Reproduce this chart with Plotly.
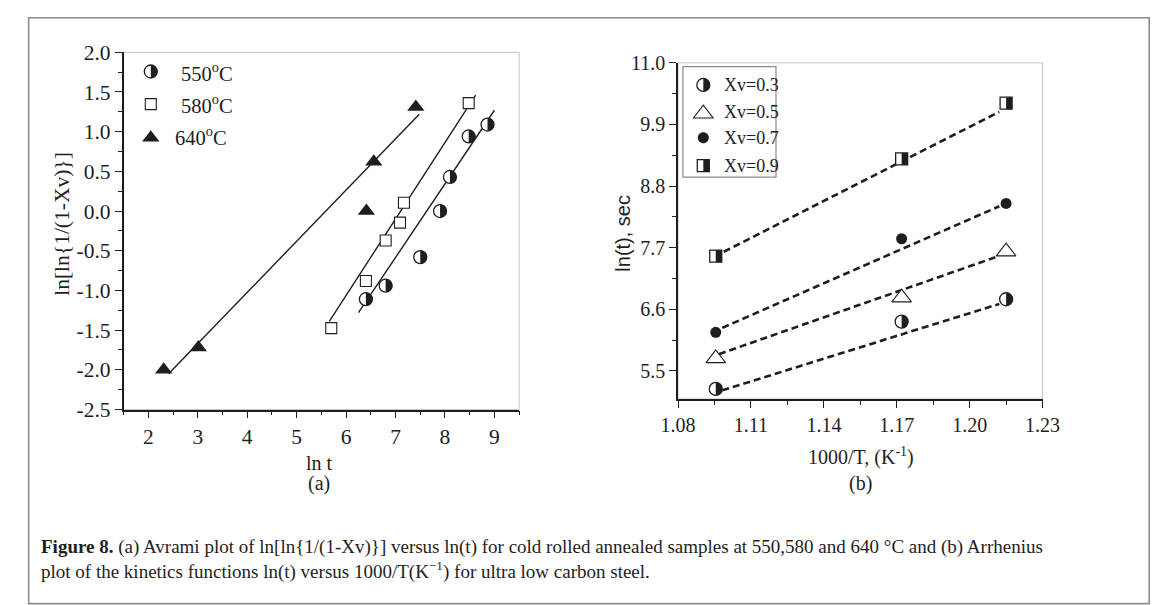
import plotly.graph_objects as go

W, H = 1173, 605

# ---------------- data: panel (a) Avrami plot ----------------
lnt_550 = [6.40, 6.80, 7.50, 7.90, 8.10, 8.48, 8.86]
avr_550 = [-1.11, -0.94, -0.58, 0.00, 0.43, 0.94, 1.09]
lnt_580 = [5.70, 6.40, 6.80, 7.09, 7.17, 8.48]
avr_580 = [-1.475, -0.88, -0.37, -0.145, 0.105, 1.36]
lnt_640 = [2.31, 3.01, 6.41, 6.56, 7.41]
avr_640 = [-2.00, -1.72, 0.00, 0.62, 1.31]
fit_550_x = [6.25, 9.00]
fit_550_y = [-1.28, 1.27]
fit_580_x = [5.66, 8.62]
fit_580_y = [-1.39, 1.46]
fit_640_x = [2.41, 7.48]
fit_640_y = [-2.05, 1.22]
a_xticks = [2, 3, 4, 5, 6, 7, 8, 9]
a_yticks = [-2.5, -2.0, -1.5, -1.0, -0.5, 0.0, 0.5, 1.0, 1.5, 2.0]
a_yticklabels = ["-2.5", "-2.0", "-1.5", "-1.0", "-0.5", "0.0", "0.5", "1.0", "1.5", "2.0"]
a_labels = ["550<sup>o</sup>C", "580<sup>o</sup>C", "640<sup>o</sup>C"]

# ---------------- data: panel (b) Arrhenius plot ----------------
inv_T = [1.0955, 1.1720, 1.2150]
lnt_03 = [5.18, 6.38, 6.78]
lnt_05 = [5.725, 6.81, 7.63]
lnt_07 = [6.19, 7.86, 8.49]
lnt_09 = [7.55, 9.285, 10.28]
fit_03_x = [1.0982, 1.2122]
fit_03_y = [5.154, 6.697]
fit_05_x = [1.0968, 1.2122]
fit_05_y = [5.80, 7.555]
fit_07_x = [1.0982, 1.2122]
fit_07_y = [6.27, 8.44]
fit_09_x = [1.0988, 1.2122]
fit_09_y = [7.628, 10.126]
b_xticks = [1.08, 1.11, 1.14, 1.17, 1.20, 1.23]
b_xticklabels = ["1.08", "1.11", "1.14", "1.17", "1.20", "1.23"]
b_yticks = [5.5, 6.6, 7.7, 8.8, 9.9, 11.0]
b_yticklabels = ["5.5", "6.6", "7.7", "8.8", "9.9", "11.0"]
b_labels = ["Xv=0.3", "Xv=0.5", "Xv=0.7", "Xv=0.9"]

caption_1 = ("<b>Figure 8.</b> (a) Avrami plot of ln[ln{1/(1-Xv)}] versus ln(t) for cold rolled "
             "annealed samples at 550,580 and 640 °C and (b) Arrhenius")
caption_2 = "plot of the kinetics functions ln(t) versus 1000/T(K<sup>−1</sup>) for ultra low carbon steel."

# ---------------- helpers ----------------
def px(x):
    return x / W

def py(y):
    return 1 - y / H

FONT = "Liberation Serif"
SANS = "Liberation Sans"
INK = "#1e1e1e"


def half_circle(r):
    k = 0.5523 * r
    return (f"M 0 {-r} C {k} {-r} {r} {-k} {r} 0 "
            f"C {r} {k} {k} {r} 0 {r} Z")


def half_square(h):
    return f"M 0 {-h} L {h} {-h} L {h} {h} L 0 {h} Z"


def full_circle(r):
    k = 0.5523 * r
    return (f"M 0 {-r} C {k} {-r} {r} {-k} {r} 0 C {r} {k} {k} {r} 0 {r} "
            f"C {-k} {r} {-r} {k} {-r} 0 C {-r} {-k} {-k} {-r} 0 {-r} Z")


def triangle(s):
    r = s / 2
    rt = r * 2 / 3 ** 0.5
    return f"M {-rt} {-r/2} L {rt} {-r/2} L 0 {r} Z"


def square(h):
    return f"M {-h} {-h} L {h} {-h} L {h} {h} L {-h} {h} Z"


def pshape(path, xa, ya, xref, yref, fill, lw=0, lc=INK):
    return dict(type="path", path=path, xref=xref, yref=yref,
                xsizemode="pixel", ysizemode="pixel", xanchor=xa, yanchor=ya,
                fillcolor=fill, line=dict(width=lw, color=lc), layer="above")


fig = go.Figure()

# ---------------- panel (a) traces ----------------
for fx, fy in [(fit_550_x, fit_550_y), (fit_580_x, fit_580_y), (fit_640_x, fit_640_y)]:
    fig.add_trace(go.Scatter(x=fx, y=fy, mode="lines", line=dict(color=INK, width=1.4),
                             showlegend=False, hoverinfo="skip", xaxis="x", yaxis="y"))

fig.add_trace(go.Scatter(x=lnt_550, y=avr_550, mode="markers", name="550°C",
                         marker=dict(symbol="circle", size=13, color="white",
                                     line=dict(color=INK, width=1.3)),
                         showlegend=False, xaxis="x", yaxis="y"))
fig.add_trace(go.Scatter(x=lnt_580, y=avr_580, mode="markers", name="580°C",
                         marker=dict(symbol="square", size=11, color="white",
                                     line=dict(color=INK, width=1.1)),
                         showlegend=False, xaxis="x", yaxis="y"))
fig.add_trace(go.Scatter(x=lnt_640, y=avr_640, mode="markers", name="640°C",
                         marker=dict(symbol="triangle-up", size=15, color=INK,
                                     line=dict(color=INK, width=0)),
                         showlegend=False, xaxis="x", yaxis="y"))

# ---------------- panel (b) traces ----------------
for fx, fy in [(fit_03_x, fit_03_y), (fit_05_x, fit_05_y), (fit_07_x, fit_07_y), (fit_09_x, fit_09_y)]:
    fig.add_trace(go.Scatter(x=fx, y=fy, mode="lines",
                             line=dict(color=INK, width=2.6, dash="7px,4px"),
                             showlegend=False, hoverinfo="skip", xaxis="x2", yaxis="y2"))

fig.add_trace(go.Scatter(x=inv_T, y=lnt_03, mode="markers", name="Xv=0.3",
                         marker=dict(symbol="circle", size=13, color="white",
                                     line=dict(color=INK, width=1.3)),
                         showlegend=False, xaxis="x2", yaxis="y2"))
fig.add_trace(go.Scatter(x=inv_T, y=lnt_05, mode="markers", name="Xv=0.5",
                         marker=dict(symbol="triangle-up", size=17, color="white",
                                     line=dict(color=INK, width=1.1)),
                         showlegend=False, xaxis="x2", yaxis="y2"))
fig.add_trace(go.Scatter(x=inv_T, y=lnt_07, mode="markers", name="Xv=0.7",
                         marker=dict(symbol="circle", size=11, color=INK,
                                     line=dict(color=INK, width=0)),
                         showlegend=False, xaxis="x2", yaxis="y2"))
fig.add_trace(go.Scatter(x=inv_T, y=lnt_09, mode="markers", name="Xv=0.9",
                         marker=dict(symbol="square", size=12, color="white",
                                     line=dict(color=INK, width=1.3)),
                         showlegend=False, xaxis="x2", yaxis="y2"))

shapes = []
# half-filled markers (black right halves) anchored on the data
for xv, yv in zip(lnt_550, avr_550):
    shapes.append(pshape(half_circle(6.5), xv, yv, "x", "y", INK))
for xv, yv in zip(inv_T, lnt_03):
    shapes.append(pshape(half_circle(6.5), xv, yv, "x2", "y2", INK))
for xv, yv in zip(inv_T, lnt_09):
    shapes.append(pshape(half_square(6), xv, yv, "x2", "y2", INK))

# plot-area light frames
for xr, yr in [("x domain", "y domain"), ("x2 domain", "y2 domain")]:
    shapes.append(dict(type="rect", xref=xr, yref=yr, x0=0, x1=1, y0=0, y1=1,
                       line=dict(color="#c4c4c4", width=1), layer="below"))

# outer frame
shapes.append(dict(type="rect", xref="paper", yref="paper", x0=px(11), x1=px(1167),
                   y0=-0.02, y1=py(7), line=dict(color="#8c8c8c", width=1.6)))

# ---------------- manual legends ----------------
annotations = []
leg_a_y = [63, 97, 130]
leg_a_tx = [166, 166, 160]
mx = px(137)
shapes.append(pshape(full_circle(6.5), mx, py(leg_a_y[0]), "paper", "paper", "white", 1.3))
shapes.append(pshape(half_circle(6.5), mx, py(leg_a_y[0]), "paper", "paper", INK))
shapes.append(pshape(square(5.5), mx, py(leg_a_y[1]), "paper", "paper", "white", 1.1))
shapes.append(pshape(triangle(15), mx, py(leg_a_y[2]) - 2 / H, "paper", "paper", INK))
for lab, yy, tx in zip(a_labels, leg_a_y, leg_a_tx):
    annotations.append(dict(text=lab, x=px(tx), y=py(yy), xref="paper", yref="paper",
                            xanchor="left", yanchor="middle", showarrow=False,
                            font=dict(family=FONT, size=20.5, color=INK)))

shapes.append(dict(type="rect", xref="paper", yref="paper", x0=px(686), x1=px(782),
                   y0=py(173), y1=py(58), line=dict(color="#8c8c8c", width=1.2),
                   fillcolor="white", layer="above"))
leg_b_y = [77, 105, 132, 161]
bx = px(707)
shapes.append(pshape(full_circle(6.5), bx, py(leg_b_y[0]), "paper", "paper", "white", 1.3))
shapes.append(pshape(half_circle(6.5), bx, py(leg_b_y[0]), "paper", "paper", INK))
shapes.append(pshape(triangle(17), bx, py(leg_b_y[1]) - 2 / H, "paper", "paper", "white", 1.1))
shapes.append(pshape(full_circle(5.5), bx, py(leg_b_y[2]), "paper", "paper", INK))
shapes.append(pshape(square(6), bx, py(leg_b_y[3]), "paper", "paper", "white", 1.3))
shapes.append(pshape(half_square(6), bx, py(leg_b_y[3]), "paper", "paper", INK))
for lab, yy in zip(b_labels, leg_b_y):
    annotations.append(dict(text=lab, x=px(726), y=py(yy), xref="paper", yref="paper",
                            xanchor="left", yanchor="middle", showarrow=False,
                            font=dict(family=FONT, size=18, color=INK)))

# ---------------- axis titles, panel tags, caption ----------------
def ann(text, x, y, size, angle=0, anchor="center", family=FONT, align="center"):
    return dict(text=text, x=px(x), y=py(y), xref="paper", yref="paper",
                xanchor=anchor, yanchor="middle", showarrow=False, textangle=angle,
                align=align, font=dict(family=family, size=size, color=INK))

annotations += [
    ann("ln[ln{1/(1-Xv)}]", 46, 222, 21.5, -90),
    ann("ln t", 311, 471, 20),
    ann("(a)", 311, 492, 20),
    ann("ln(t), sec", 624, 231, 20, -90, family=SANS),
    ann("1000/T, (K<sup>-1</sup>)", 870, 464, 20),
    ann("(b)", 869, 492, 20),
    ann(caption_1 + "<br>" + caption_2, 22, 571, 19, 0, "left", align="left"),
]

axis_common = dict(showgrid=False, zeroline=False, showline=True, linecolor=INK,
                   linewidth=1.5, ticks="outside", ticklen=7, tickwidth=1.4,
                   tickcolor=INK, mirror=False)

fig.update_layout(
    width=W, height=H, margin=dict(l=0, r=0, t=0, b=0),
    paper_bgcolor="white", plot_bgcolor="white", showlegend=False,
    xaxis=dict(domain=[px(109), px(517)], range=[1.5, 9.5], anchor="y",
               tickmode="array", tickvals=a_xticks,
               tickfont=dict(family=FONT, size=21.5, color=INK),
               minor=dict(ticks="outside", ticklen=4, tickwidth=1.2, tickcolor=INK,
                          tick0=1.5, dtick=0.5),
               **axis_common),
    yaxis=dict(domain=[py(415), py(43)], range=[-2.5, 2.0], anchor="x",
               tickmode="array", tickvals=a_yticks, ticktext=a_yticklabels,
               tickfont=dict(family=FONT, size=21.5, color=INK),
               minor=dict(ticks="outside", ticklen=4, tickwidth=1.2, tickcolor=INK,
                          tick0=-2.5, dtick=0.25),
               **axis_common),
    xaxis2=dict(domain=[px(681), px(1057)], range=[1.08, 1.23], anchor="y2",
                tickmode="array", tickvals=b_xticks, ticktext=b_xticklabels,
                tickfont=dict(family=FONT, size=20, color=INK),
                minor=dict(ticks="outside", ticklen=4, tickwidth=1.2, tickcolor=INK,
                           tick0=1.08, dtick=0.015),
                **axis_common),
    yaxis2=dict(domain=[py(404), py(54)], range=[5.0, 11.0], anchor="x2",
                tickmode="array", tickvals=b_yticks, ticktext=b_yticklabels,
                tickfont=dict(family=FONT, size=20, color=INK),
                minor=dict(ticks="outside", ticklen=4, tickwidth=1.2, tickcolor=INK,
                           tick0=5.5, dtick=0.55),
                **axis_common),
    shapes=shapes,
    annotations=annotations,
)

fig.write_html("out.html")
